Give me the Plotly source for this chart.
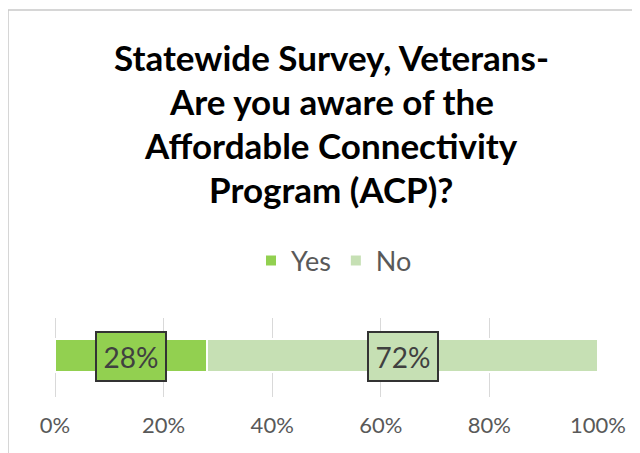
import plotly.graph_objects as go

categories = ["Veterans"]
series_names = ["Yes", "No"]
series_values = [[28], [72]]
series_colors = ["#92D050", "#C6E0B4"]
title_lines = ["Statewide Survey, Veterans-", "Are you aware of the",
               "Affordable Connectivity", "Program (ACP)?"]
tick_vals = [0, 20, 40, 60, 80, 100]
tick_text = ["0%", "20%", "40%", "60%", "80%", "100%"]

FONT = "Lato"
OFF = 8  # page body margin
W, H = 640 - OFF, 453 - OFF
L, R, T, B = 55 - OFF, 42, 318 - OFF, 56
PW, PH = W - L - R, H - T - B

def px_to_paper_x(px):
    return (px - OFF - L) / PW

def px_to_paper_y(py):
    return (H - B - (py - OFF)) / PH

fig = go.Figure()
for name, vals, col in zip(series_names, series_values, series_colors):
    fig.add_trace(go.Bar(
        y=categories, x=vals, name=name, orientation="h",
        marker=dict(color=col, line=dict(color="white", width=2)),
        width=0.42, hoverinfo="skip",
    ))

annotations = []
cum = 0
for name, vals, col in zip(series_names, series_values, series_colors):
    v = vals[0]
    annotations.append(dict(
        x=cum + v / 2, y=categories[0], xref="x", yref="y",
        text=f"{v}%", showarrow=False,
        font=dict(family=FONT, size=28, color="#404040"),
        bgcolor=col, bordercolor="#333333", borderwidth=2,
        width=66, height=45, yshift=-1,
    ))
    cum += v

title_y = [57, 101, 145, 189]
for line, py in zip(title_lines, title_y):
    annotations.append(dict(
        x=px_to_paper_x(331), y=px_to_paper_y(py), xref="paper", yref="paper",
        text=f"<b>{line}</b>", showarrow=False, xanchor="center", yanchor="middle",
        font=dict(family=FONT, size=35, color="#000000"),
    ))

shapes = [
    dict(type="line", xref="paper", yref="paper",
         x0=px_to_paper_x(8), x1=px_to_paper_x(8),
         y0=px_to_paper_y(460), y1=px_to_paper_y(10),
         line=dict(color="#c8c8c8", width=1.5)),
    dict(type="line", xref="paper", yref="paper",
         x0=px_to_paper_x(8), x1=px_to_paper_x(650),
         y0=px_to_paper_y(10), y1=px_to_paper_y(10),
         line=dict(color="#c8c8c8", width=1.5)),
]

fig.update_layout(
    width=W, height=H, barmode="stack",
    margin=dict(l=L, r=R, t=T, b=B, pad=0),
    paper_bgcolor="white", plot_bgcolor="white",
    font=dict(family=FONT, color="#595959"),
    showlegend=True,
    legend=dict(orientation="h", xanchor="center", yanchor="middle",
                x=px_to_paper_x(334), y=px_to_paper_y(261),
                font=dict(family=FONT, size=27, color="#595959"),
                itemclick=False, traceorder="normal"),
    annotations=annotations, shapes=shapes,
    xaxis=dict(range=[0, 100], tickvals=tick_vals, ticktext=tick_text,
               showgrid=True, gridcolor="#d9d9d9", gridwidth=1,
               zeroline=True, zerolinecolor="#d9d9d9", zerolinewidth=1,
               showline=False, ticks="", ticklabelstandoff=13,
               tickfont=dict(family=FONT, size=22, color="#595959"),
               fixedrange=True),
    yaxis=dict(range=[-0.525, 0.475], showticklabels=False, showgrid=False,
               zeroline=False, showline=False, ticks="", fixedrange=True),
)

fig.write_html("out.html")
